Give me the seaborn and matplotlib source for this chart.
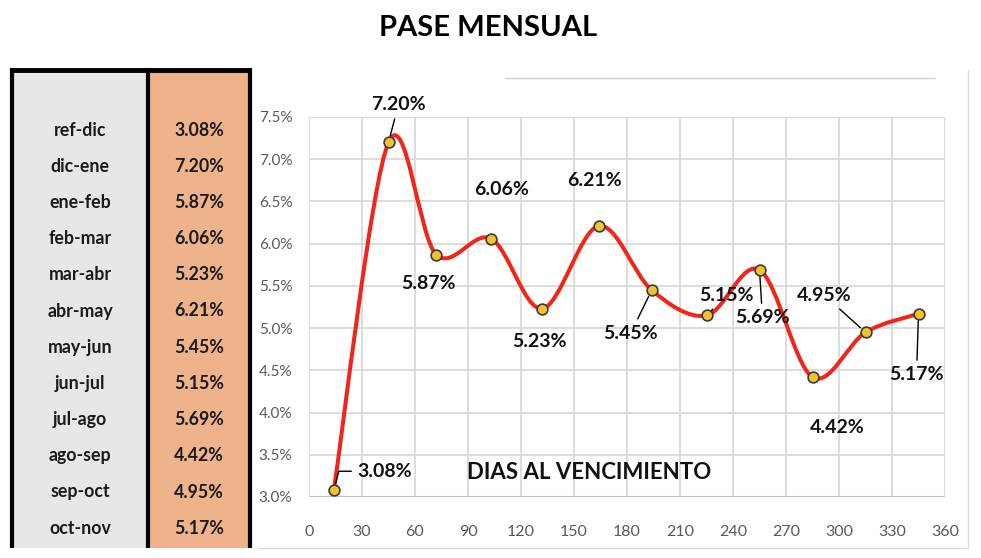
import numpy as np
import matplotlib
matplotlib.use("Agg")
import matplotlib.pyplot as plt
from matplotlib.path import Path
from matplotlib.patches import PathPatch, Rectangle
import seaborn as sns
import pandas as pd

# ---- data ----
periods = ["ref-dic", "dic-ene", "ene-feb", "feb-mar", "mar-abr", "abr-may",
           "may-jun", "jun-jul", "jul-ago", "ago-sep", "sep-oct", "oct-nov"]
days = [14, 45, 72, 103, 132, 164, 194, 225, 255, 285, 315, 345]
rates = [3.08, 7.20, 5.87, 6.06, 5.23, 6.21, 5.45, 5.15, 5.69, 4.42, 4.95, 5.17]
x_ticks = [0, 30, 60, 90, 120, 150, 180, 210, 240, 270, 300, 330, 360]
y_ticks = [3.0, 3.5, 4.0, 4.5, 5.0, 5.5, 6.0, 6.5, 7.0, 7.5]

# label offsets (pixels) and whether a leader line is drawn
label_dx = [51, 10, -8, 11, -3, -4, -21, 20, 3, 25, -41, -2]
label_dy = [19, 38, -29, 49, -33, 45, -43, 20, -48, -50, 37, -61]
leader = [True, True, False, False, False, False, True, True, True, False, True, True]

sns.set_theme(style="white")
fam = ["Lato", "DejaVu Sans"]
plt.rcParams["font.family"] = fam

W, H = 981, 558
fig = plt.figure(figsize=(W / 100, H / 100), dpi=100)

# ---- background / table layer in pixel coordinates ----
bg = fig.add_axes([0, 0, 1, 1])
bg.set_xlim(0, W)
bg.set_ylim(H, 0)
bg.axis("off")

top, bottom = 70, 548
bg.add_patch(Rectangle((12, top), 136, bottom - top, facecolor="#e7e7e7", edgecolor="none"))
bg.add_patch(Rectangle((148, top), 102, bottom - top, facecolor="#efb38b", edgecolor="none"))
for xv in (12, 148, 250):
    bg.plot([xv, xv], [top - 2, bottom], color="black", lw=3, solid_capstyle="butt")
bg.plot([12, 250], [top, top], color="black", lw=3.5, solid_capstyle="butt")
# faint spreadsheet lines at top / bottom of chart area
bg.plot([505, 935], [78, 78], color="#d0d0d0", lw=1)
bg.plot([258, 968], [548, 548], color="#d9d9d9", lw=1)
bg.plot([968, 968], [70, 548], color="#d9d9d9", lw=1)

row0, step = 130, 36.2
for i, (p, r) in enumerate(zip(periods, rates)):
    yy = row0 + i * step
    bg.text(80, yy, p, ha="center", va="center", fontsize=12.8, fontweight="bold",
            color="#1a1a1a")
    bg.text(199, yy, f"{r:.2f}%", ha="center", va="center", fontsize=12.8,
            fontweight="bold", color="#1a1a1a")

fig.text(488 / W, 1 - 28 / H, "PASE MENSUAL", ha="center", va="center",
         fontsize=21, fontweight="bold", color="black")

# ---- chart ----
left, right = 309, 945
ytop, ybot = 117, 497
ax = fig.add_axes([left / W, 1 - ybot / H, (right - left) / W, (ybot - ytop) / H])
ax.set_facecolor("none")
ax.set_xlim(0, 360)
ax.set_ylim(3.0, 7.5)
ax.set_xticks(x_ticks)
ax.set_yticks(y_ticks)
ax.set_yticklabels([f"{v:.1f}%" for v in y_ticks])
ax.grid(True, color="#d9d9d9", lw=1.3)
for s in ax.spines.values():
    s.set_visible(False)
ax.axhline(3.0, color="#bfbfbf", lw=1.5, zorder=1)
ax.tick_params(axis="x", length=0, pad=20, labelsize=11.5, labelcolor="#595959")
ax.tick_params(axis="y", length=0, pad=12, labelsize=11, labelcolor="#595959")

# smoothed line (Excel-like Catmull-Rom bezier through the data)
px = np.array(days, dtype=float)
py = np.array(rates, dtype=float)
verts = [(px[0], py[0])]
codes = [Path.MOVETO]
n = len(px)
for i in range(n - 1):
    p0 = np.array([px[max(i - 1, 0)], py[max(i - 1, 0)]])
    p1 = np.array([px[i], py[i]])
    p2 = np.array([px[i + 1], py[i + 1]])
    p3 = np.array([px[min(i + 2, n - 1)], py[min(i + 2, n - 1)]])
    c1 = p1 + (p2 - p0) / 6.0
    c2 = p2 - (p3 - p1) / 6.0
    verts += [tuple(c1), tuple(c2), tuple(p2)]
    codes += [Path.CURVE4] * 3
ax.add_patch(PathPatch(Path(verts, codes), facecolor="none", edgecolor="#f0261b",
                       lw=2.9, zorder=3, capstyle="round"))

df = pd.DataFrame({"dias": days, "pase": rates})
sns.scatterplot(data=df, x="dias", y="pase", ax=ax, s=60, color="#f3c02e",
                edgecolor="#3a3a3a", linewidth=1.2, zorder=4, legend=False)
ax.set_xlabel("")
ax.set_ylabel("")

for i, (d, r) in enumerate(zip(days, rates)):
    kw = {}
    if leader[i]:
        cs = "angle,angleA=0,angleB=75,rad=0" if i == 0 else "arc3"
        kw["arrowprops"] = dict(arrowstyle="-", color="black", lw=1,
                                shrinkA=2, shrinkB=5, connectionstyle=cs)
    ax.annotate(f"{r:.2f}%", xy=(d, r), xytext=(label_dx[i], label_dy[i]),
                textcoords="offset pixels", ha="center", va="center",
                fontsize=14, fontweight="bold", color="#111111", zorder=5, **kw)

ax.text(0.44, 0.065, "DIAS AL VENCIMIENTO", transform=ax.transAxes,
        ha="center", va="center", fontsize=16, fontweight="bold", color="#111111")

fig.savefig("out.png", dpi=100)
